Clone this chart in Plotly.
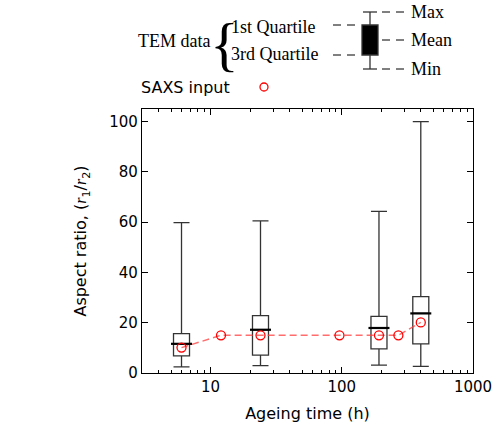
import plotly.graph_objects as go

# TEM box statistics, aspect ratio r1/r2
tem_time = [6, 24, 192, 400]
tem_min = [2.4, 2.9, 3.1, 2.6]
tem_q1 = [6.8, 7.1, 9.6, 11.6]
tem_median = [11.6, 17.2, 17.9, 23.7]
tem_q3 = [15.7, 22.8, 22.5, 30.4]
tem_max = [59.8, 60.5, 64.3, 100.0]

# SAXS input
saxs_time = [6, 12, 24, 96, 192, 270, 400]
saxs_ratio = [10.1, 15.0, 15.0, 15.0, 15.0, 15.0, 20.1]

x_ticks = [10, 100, 1000]
x_minor = [3, 4, 5, 6, 7, 8, 9, 20, 30, 40, 50, 60, 70, 80, 90,
           200, 300, 400, 500, 600, 700, 800, 900]
y_ticks = [0, 20, 40, 60, 80, 100]

W, H = 498, 424
L, R, T, B = 142, 25, 109, 51

SANS = "DejaVu Sans"
SERIF = "Liberation Serif"


def px(x):
    # page pixel -> paper x
    return (x - L) / (W - L - R)


def py(y):
    # page pixel -> paper y
    return (H - B - y) / (H - T - B)


fig = go.Figure()

fig.add_trace(go.Box(
    x=tem_time, q1=tem_q1, median=tem_median, q3=tem_q3,
    lowerfence=tem_min, upperfence=tem_max,
    width=0.122, whiskerwidth=1, boxpoints=False,
    fillcolor="rgba(0,0,0,0)",
    line=dict(color="#333333", width=1.3),
    showlegend=False, hoverinfo="skip",
))

# thicker median bars
fig.add_trace(go.Scatter(
    x=tem_time, y=tem_median, mode="markers",
    marker=dict(symbol="line-ew", size=15,
                line=dict(color="black", width=2.2)),
    showlegend=False, hoverinfo="skip",
))

fig.add_trace(go.Scatter(
    x=saxs_time, y=saxs_ratio, mode="lines+markers",
    line=dict(color="rgba(255,60,60,0.75)", width=1.4, dash="7px,4px"),
    marker=dict(symbol="circle-open", size=9,
                color="red", line=dict(color="red", width=1.3)),
    showlegend=False,
))

# invisible trace so the top minor-tick axis gets drawn
fig.add_trace(go.Scatter(
    x=[x_ticks[0]], y=[y_ticks[0]], xaxis="x2", mode="markers",
    marker=dict(opacity=0), showlegend=False, hoverinfo="skip",
))

# --- hand drawn key above the plot ---
shapes = []
ln = dict(color="#333333", width=1.3)
shapes.append(dict(type="rect", xref="paper", yref="paper",
                   x0=px(362), x1=px(378), y0=py(25), y1=py(55),
                   fillcolor="black", line=ln))
shapes.append(dict(type="line", xref="paper", yref="paper",
                   x0=px(370), x1=px(370), y0=py(12), y1=py(25), line=ln))
shapes.append(dict(type="line", xref="paper", yref="paper",
                   x0=px(370), x1=px(370), y0=py(55), y1=py(69), line=ln))
for yy in [12, 69]:
    shapes.append(dict(type="line", xref="paper", yref="paper",
                       x0=px(363), x1=px(377), y0=py(yy), y1=py(yy), line=ln))
dash = dict(color="black", width=1, dash="8px,6px")
for yy in [25, 55]:
    shapes.append(dict(type="line", xref="paper", yref="paper",
                       x0=px(333), x1=px(355), y0=py(yy), y1=py(yy), line=dash))
for yy in [12, 40, 69]:
    shapes.append(dict(type="line", xref="paper", yref="paper",
                       x0=px(382), x1=px(404), y0=py(yy), y1=py(yy), line=dash))
shapes.append(dict(type="circle", xref="paper", yref="paper",
                   x0=px(260), x1=px(268), y0=py(83), y1=py(91),
                   line=dict(color="red", width=1.3)))

annotations = []


def label(text, x, y, font, size, anchor="left"):
    annotations.append(dict(text=text, x=px(x), y=py(y), xref="paper", yref="paper",
                            xanchor=anchor, yanchor="middle", showarrow=False,
                            font=dict(family=font, size=size, color="black")))


label("Max", 409, 12, SERIF, 18)
label("Mean", 409, 40, SERIF, 18)
label("Min", 409, 69, SERIF, 18)
label("1st Quartile", 229, 27, SERIF, 18)
label("3rd Quartile", 229, 54, SERIF, 18)
label("TEM data", 136, 41, SERIF, 18)
label("{", 224, 44, SERIF, 60, anchor="center")
label("SAXS input", 139, 87, SANS, 16)

fig.update_layout(
    width=W, height=H,
    margin=dict(l=L, r=R, t=T, b=B, autoexpand=False),
    paper_bgcolor="white", plot_bgcolor="white",
    font=dict(family=SANS, size=15, color="black"),
    shapes=shapes, annotations=annotations,
    showlegend=False,
    xaxis2=dict(
        type="log", range=[0.477, 3.0], overlaying="x", side="top", anchor="y",
        tickmode="array", tickvals=x_minor, showticklabels=False,
        ticks="inside", ticklen=3, tickwidth=1, tickcolor="black",
        showline=False, showgrid=False, zeroline=False, automargin=False,
    ),
)

fig.update_xaxes(
    selector=dict(overlaying=None),
    type="log", range=[0.477, 3.0], automargin=False,
    tickvals=x_ticks, ticktext=[str(v) for v in x_ticks],
    ticks="inside", ticklen=6, tickwidth=1, tickcolor="black",
    minor=dict(tickmode="array", tickvals=x_minor, ticks="inside",
               ticklen=3, tickwidth=1, tickcolor="black", showgrid=False),
    showline=True, linecolor="black", linewidth=1.2, mirror="ticks",
    showgrid=False, zeroline=False,
    title=dict(text="Ageing time (h)", font=dict(size=16), standoff=12),
)

r_sym = "<span style='font-family:Liberation Serif'><i>r</i></span>"
fig.update_yaxes(
    range=[0, 105], tickvals=y_ticks, automargin=False,
    ticks="inside", ticklen=6, tickwidth=1, tickcolor="black",
    showline=True, linecolor="black", linewidth=1.2, mirror="ticks",
    showgrid=False, zeroline=False,
    title=dict(text=f"Aspect ratio, ({r_sym}<sub>1</sub>/{r_sym}<sub>2</sub>)",
               font=dict(size=16), standoff=18),
)

fig.write_html("out.html", config={"displayModeBar": False},
               post_script="document.body.style.margin='0';")
